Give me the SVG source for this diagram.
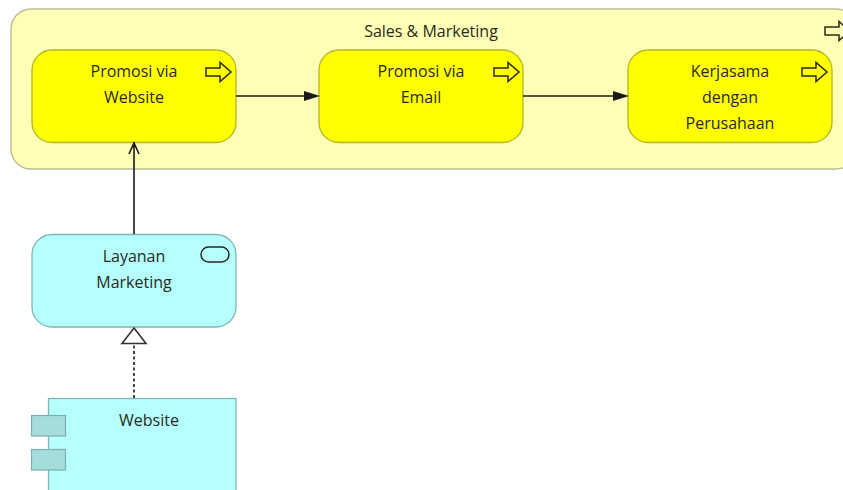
<svg xmlns="http://www.w3.org/2000/svg" width="843" height="490" viewBox="0 0 843 490">
<style>
text{font-family:"Open Sans","Noto Sans","Liberation Sans",sans-serif;font-size:16px;fill:#2a2a20;text-anchor:middle}
.y{fill:#ffff00;stroke:#b5b52a;stroke-width:1.3}
.c{fill:#b5ffff;stroke:#7fb5b5;stroke-width:1.3}
.p{fill:#a5dcdc;stroke:#7fb0b0;stroke-width:1.2}
.ic{fill:none;stroke:#2a2a20;stroke-width:1.5}
.l{fill:none;stroke:#1a1a1a;stroke-width:1.6}
</style>
<defs>
<path id="pa" d="M0 -4H14V-9.500L25 0L14 9.500V4H0Z" fill="none" stroke="#2a2a20" stroke-width="1.5"/>
</defs>
<rect width="843" height="490" fill="#fff"/>
<g id="sales-marketing">
<rect x="11" y="9" width="845" height="160" rx="20" fill="#ffffb5" stroke="#bcbc94" stroke-width="1.4"/>
<text x="431" y="37">Sales &amp; Marketing</text>
<use href="#pa" x="825" y="31"/>
</g>
<g id="promosi-website">
<rect class="y" x="32" y="50" width="204" height="92.500" rx="20"/>
<text x="134" y="77">Promosi via</text><text x="134" y="103">Website</text>
<use href="#pa" x="206" y="72"/>
</g>
<g id="promosi-email">
<rect class="y" x="319" y="50" width="204" height="92.500" rx="20"/>
<text x="421" y="77">Promosi via</text><text x="421" y="103">Email</text>
<use href="#pa" x="494" y="72"/>
</g>
<g id="kerjasama">
<rect class="y" x="628" y="50" width="204" height="92.500" rx="20"/>
<text x="730" y="77">Kerjasama</text><text x="730" y="103">dengan</text><text x="730" y="129">Perusahaan</text>
<use href="#pa" x="802" y="72"/>
</g>
<g id="layanan-marketing">
<rect class="c" x="32" y="234.500" width="204" height="92.500" rx="20"/>
<text x="134" y="262">Layanan</text><text x="134" y="288">Marketing</text>
<rect class="ic" x="201" y="247" width="28" height="15" rx="7.500"/>
</g>
<g id="website">
<rect class="c" x="48.500" y="398.500" width="187.500" height="100"/>
<rect class="p" x="31.500" y="415.500" width="34" height="20.500"/>
<rect class="p" x="31.500" y="449.500" width="34" height="20.500"/>
<text x="149" y="426">Website</text>
</g>
<g id="connectors">
<path class="l" d="M236 96H305"/><path d="M304 91L320 96L304 101Z" fill="#1a1a1a"/>
<path class="l" d="M523 96H614"/><path d="M613 91L629 96L613 101Z" fill="#1a1a1a"/>
<path class="l" d="M134 234V143M129 154L134 143L139 154"/>
<path class="l" stroke-dasharray="3 2.500" d="M134 398V344"/>
<path d="M134 328L146 343.500H122Z" fill="#fff" stroke="#333" stroke-width="1.6"/>
</g>
</svg>
